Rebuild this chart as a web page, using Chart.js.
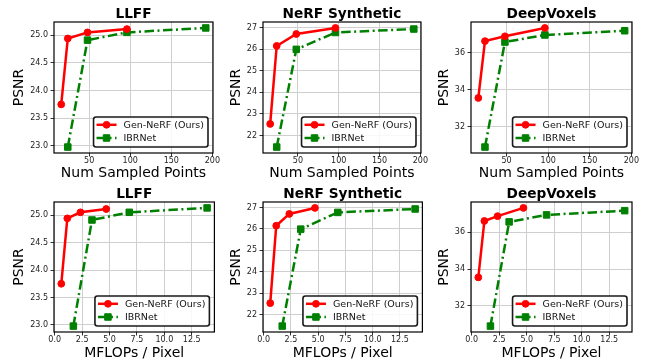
<!DOCTYPE html>
<html><head><meta charset="utf-8">
<script src="https://cdn.jsdelivr.net/npm/chart.js@4.4.1/dist/chart.umd.min.js"></script>
<style>
html,body{margin:0;padding:0;background:#fff;overflow:hidden;width:654px;height:360px;position:relative;}
canvas{position:absolute;}
</style></head><body>
<canvas id="c0"></canvas><canvas id="c1"></canvas><canvas id="c2"></canvas>
<canvas id="c3"></canvas><canvas id="c4"></canvas><canvas id="c5"></canvas>
<script>
// ---------- data ----------
const seriesNames = ['Gen-NeRF (Ours)', 'IBRNet'];
const panelTitles = ['LLFF', 'NeRF Synthetic', 'DeepVoxels'];
const xAxisTitles = ['Num Sampled Points', 'MFLOPs / Pixel'];
const yAxisTitle = 'PSNR';

const numSampledGen = [16, 24, 48, 96];
const numSampledIBR = [24, 48, 96, 192];
const mflopsGen = [0.6, 1.15, 2.35, 4.7];
const mflopsIBR = [1.7, 3.4, 6.8, 13.9];

const psnrLLFFGen = [23.75, 24.94, 25.05, 25.11];
const psnrLLFFIBR = [22.98, 24.91, 25.05, 25.13];
const psnrSynGen = [22.54, 26.15, 26.70, 26.98];
const psnrSynIBR = [21.47, 25.99, 26.77, 26.93];
const psnrDVGen = [33.55, 36.62, 36.88, 37.33];
const psnrDVIBR = [30.90, 36.57, 36.95, 37.18];

const xTicksPoints = [50, 100, 150, 200];
const xTickLabelsPoints = ['50', '100', '150', '200'];
const xTicksMflops = [0, 2.5, 5, 7.5, 10, 12.5];
const xTickLabelsMflops = ['0.0', '2.5', '5.0', '7.5', '10.0', '12.5'];
const yTicksLLFF = [23, 23.5, 24, 24.5, 25];
const yTickLabelsLLFF = ['23.0', '23.5', '24.0', '24.5', '25.0'];
const yTicksSyn = [22, 23, 24, 25, 26, 27];
const yTickLabelsSyn = ['22', '23', '24', '25', '26', '27'];
const yTicksDV = [32, 34, 36];
const yTickLabelsDV = ['32', '34', '36'];

// ---------- layout / style ----------
Chart.defaults.font.family = "'DejaVu Sans', sans-serif";
Chart.defaults.color = '#000';
const cols = [
  {left: 0,   width: 220, yAxisW: 54, padRight: 4,  yTitlePad: 12},
  {left: 218, width: 210, yAxisW: 45, padRight: 4,  yTitlePad: 11},
  {left: 426, width: 228, yAxisW: 45, padRight: 22, yTitlePad: 11.5}
];
const rows = [
  {top: 0,   height: 185, xAxisH: 27, padBottom: 5},
  {top: 180, height: 185, xAxisH: 28, padBottom: 5}
];
const RED = '#ff0000', GREEN = '#008000';

function paddedRange(arrs) {
  const all = [].concat(...arrs);
  const mn = Math.min(...all), mx = Math.max(...all);
  const m = (mx - mn) * 0.05;
  return [mn - m, mx + m];
}

const framePlugin = {
  id: 'frameAndLegend',
  afterDatasetsDraw(chart) {
    const {ctx, chartArea: a} = chart;
    ctx.save();
    ctx.lineWidth = 1.2; ctx.strokeStyle = '#000';
    ctx.strokeRect(a.left, a.top, a.right - a.left, a.bottom - a.top);
    const ds = chart.data.datasets;
    ctx.font = '9.5px "DejaVu Sans"';
    const tw = Math.max(...ds.map(d => ctx.measureText(d.label).width));
    const w = 3 + 20 + 7 + tw + 4, h = 30;
    const x = a.right - 5 - w, y = a.bottom - 6 - h;
    ctx.beginPath();
    ctx.roundRect(x, y, w, h, 2.5);
    ctx.fillStyle = 'rgba(255,255,255,0.85)'; ctx.fill();
    ctx.lineWidth = 1.6; ctx.strokeStyle = '#1a1a1a'; ctx.stroke();
    ds.forEach((d, i) => {
      const cy = y + 7.8 + i * 13.2;
      ctx.setLineDash(d.borderDash || []);
      ctx.lineWidth = d.borderWidth; ctx.strokeStyle = d.borderColor;
      ctx.beginPath(); ctx.moveTo(x + 3, cy); ctx.lineTo(x + 23, cy); ctx.stroke();
      ctx.setLineDash([]);
      ctx.beginPath();
      if (d.pointStyle === 'rect') {
        const s = d.pointRadius * Math.SQRT1_2;
        ctx.rect(x + 13 - s, cy - s, 2 * s, 2 * s);
      } else {
        ctx.arc(x + 13, cy, d.pointRadius, 0, 2 * Math.PI);
      }
      ctx.fillStyle = d.pointBackgroundColor; ctx.fill();
      ctx.lineWidth = d.pointBorderWidth; ctx.strokeStyle = d.pointBorderColor; ctx.stroke();
      ctx.fillStyle = '#111'; ctx.textBaseline = 'middle'; ctx.textAlign = 'left';
      ctx.fillText(d.label, x + 30, cy + 0.5);
    });
    ctx.restore();
  }
};

function makeSeries(xs, ys) { return xs.map((x, i) => ({x: x, y: ys[i]})); }

const xSets = [
  {gen: numSampledGen, ibr: numSampledIBR, ticks: xTicksPoints, labels: xTickLabelsPoints},
  {gen: mflopsGen, ibr: mflopsIBR, ticks: xTicksMflops, labels: xTickLabelsMflops}
];
const ySets = [
  {gen: psnrLLFFGen, ibr: psnrLLFFIBR, ticks: yTicksLLFF, labels: yTickLabelsLLFF},
  {gen: psnrSynGen, ibr: psnrSynIBR, ticks: yTicksSyn, labels: yTickLabelsSyn},
  {gen: psnrDVGen, ibr: psnrDVIBR, ticks: yTicksDV, labels: yTickLabelsDV}
];

let idx = 0;
rows.forEach((row, r) => {
  cols.forEach((col, c) => {
    const cv = document.getElementById('c' + idx++);
    cv.style.left = col.left + 'px'; cv.style.top = row.top + 'px';
    cv.width = col.width; cv.height = row.height;
    cv.style.width = col.width + 'px'; cv.style.height = row.height + 'px';
    const xs = xSets[r], ys = ySets[c];
    const xr = paddedRange([xs.gen, xs.ibr]);
    const yr = paddedRange([ys.gen, ys.ibr]);
    new Chart(cv, {
      type: 'scatter',
      data: {
        datasets: [
          {label: seriesNames[0], data: makeSeries(xs.gen, ys.gen), showLine: true,
           borderColor: RED, backgroundColor: RED, borderWidth: 2.5,
           pointStyle: 'circle', pointRadius: 3.4, pointBackgroundColor: RED,
           pointBorderColor: RED, pointBorderWidth: 1, clip: false, order: 1},
          {label: seriesNames[1], data: makeSeries(xs.ibr, ys.ibr), showLine: true,
           borderColor: GREEN, backgroundColor: GREEN, borderWidth: 2.5,
           borderDash: [9.5, 3.5, 2, 3.5],
           pointStyle: 'rect', pointRadius: 4.6, pointBackgroundColor: GREEN,
           pointBorderColor: GREEN, pointBorderWidth: 1, clip: false, order: 2}
        ]
      },
      options: {
        responsive: false, animation: false, devicePixelRatio: 1,
        events: [],
        layout: {padding: {top: 0, left: 0, right: col.padRight, bottom: row.padBottom}},
        plugins: {
          legend: {display: false}, tooltip: {enabled: false},
          title: {display: true, text: panelTitles[c], fullSize: false, color: '#000',
                  font: {size: 13.7, weight: 'bold', lineHeight: 1},
                  padding: {top: 7.6, bottom: 0.7}}
        },
        scales: {
          x: {
            type: 'linear', min: xr[0], max: xr[1],
            afterBuildTicks: s => { s.ticks = xs.ticks.map(v => ({value: v})); },
            afterFit: s => { s.height = row.xAxisH; },
            ticks: {autoSkip: false, maxRotation: 0, padding: 0, color: '#222',
                    font: {size: 8, lineHeight: 1},
                    callback: (v, i) => xs.labels[i]},
            grid: {color: '#cfcfcf', lineWidth: 1, tickLength: 3.5, tickColor: '#333', drawTicks: true},
            border: {display: false},
            title: {display: true, text: xAxisTitles[r], color: '#000',
                    font: {size: 14, lineHeight: 1}, padding: {top: 0, bottom: 0}}
          },
          y: {
            type: 'linear', min: yr[0], max: yr[1],
            afterBuildTicks: s => { s.ticks = ys.ticks.map(v => ({value: v})); },
            afterFit: s => { s.width = col.yAxisW; },
            ticks: {autoSkip: false, padding: 2.5, color: '#222',
                    font: {size: 8, lineHeight: 1},
                    callback: (v, i) => ys.labels[i]},
            grid: {color: '#cfcfcf', lineWidth: 1, tickLength: 3.5, tickColor: '#333', drawTicks: true},
            border: {display: false},
            title: {display: true, text: yAxisTitle, color: '#000',
                    font: {size: 14, lineHeight: 1}, padding: {top: col.yTitlePad, bottom: 0}}
          }
        }
      },
      plugins: [framePlugin]
    });
  });
});
</script>
</body></html>
